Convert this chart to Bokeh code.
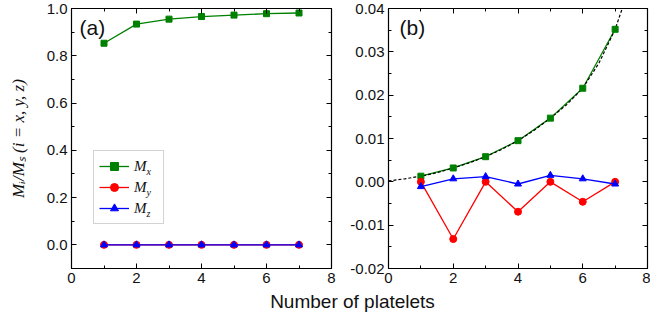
from bokeh.plotting import figure
from bokeh.models import (Range1d, LinearAxis, SingleIntervalTicker, NumeralTickFormatter,
                          Legend, LegendItem, Label)
from bokeh.layouts import column, row
from bokeh.embed import file_html
from bokeh.resources import INLINE

# ---------------- data ----------------
platelets = [1, 2, 3, 4, 5, 6, 7]
# panel (a)
mx_a = [0.853, 0.934, 0.955, 0.966, 0.972, 0.978, 0.981]
my_a = [0.0, 0.0, 0.0, 0.0, 0.0, 0.0, 0.0]
mz_a = [0.0, 0.0, 0.0, 0.0, 0.0, 0.0, 0.0]
# panel (b)
mx_b = [0.0013, 0.0032, 0.0058, 0.0095, 0.0147, 0.0216, 0.0352]
my_b = [0.0, -0.0132, 0.0, -0.0069, 0.0, -0.0046, 0.0]
mz_b = [-0.0011, 0.0007, 0.0012, -0.0005, 0.0015, 0.0007, -0.0005]
# dashed fit curve in panel (b)
fit_x = [0, 0.5, 1, 1.5, 2, 2.5, 3, 3.5, 4, 4.5, 5, 5.5, 6, 6.5, 7, 7.22]
fit_y = [0.0002, 0.0007, 0.0013, 0.0021, 0.0032, 0.0044, 0.0058, 0.0075, 0.0095,
         0.0119, 0.0147, 0.0178, 0.0216, 0.0274, 0.0352, 0.0400]

x_ticks_interval = 2
x_label = "Number of platelets"
y_label = "M\u1d62/M\u209b (i = x, y, z)"
legend_subs = ["x", "y", "z"]

GREEN = "#008000"
RED = "#ff0000"
BLUE = "#0000ff"
TICK_FONT = "Liberation Sans"
TEXT_COLOR = "#111111"


def style(p, yint, yfmt):
    p.grid.visible = False
    p.outline_line_color = "black"
    p.outline_line_width = 1.2
    p.background_fill_color = "white"
    p.border_fill_color = "white"
    p.xaxis.ticker = SingleIntervalTicker(interval=x_ticks_interval, num_minor_ticks=2)
    p.yaxis.ticker = SingleIntervalTicker(interval=yint, num_minor_ticks=2)
    p.xaxis.formatter = NumeralTickFormatter(format="0")
    p.yaxis.formatter = NumeralTickFormatter(format=yfmt)
    for ax in p.xaxis + p.yaxis:
        ax.major_tick_in = 5
        ax.major_tick_out = 0
        ax.minor_tick_in = 3
        ax.minor_tick_out = 0
        ax.major_tick_line_color = "black"
        ax.minor_tick_line_color = "black"
        ax.axis_line_color = "black"
        ax.major_label_text_font = TICK_FONT
        ax.major_label_text_font_size = "15px"
        ax.major_label_text_color = TEXT_COLOR
        ax.major_label_standoff = 4
    # mirrored axes (ticks only, labels not drawn)
    top = LinearAxis(ticker=SingleIntervalTicker(interval=x_ticks_interval, num_minor_ticks=2))
    right = LinearAxis(ticker=SingleIntervalTicker(interval=yint, num_minor_ticks=2))
    for ax in (top, right):
        ax.major_tick_in = 5
        ax.major_tick_out = 0
        ax.minor_tick_in = 3
        ax.minor_tick_out = 0
        ax.major_label_text_font_size = "1px"
        ax.major_label_text_color = None
        ax.major_label_standoff = 0
        ax.axis_line_color = None
    p.add_layout(top, "above")
    p.add_layout(right, "right")


FIG_H = 290
BORDER_TOP = 8
BORDER_BOTTOM = 22

# ---------------- panel (a) ----------------
A_LEFT, A_RIGHT, A_W = 71, 9, 340
pa = figure(width=A_W, height=FIG_H, x_range=Range1d(0, 8), y_range=Range1d(-0.1, 1.0),
            toolbar_location=None, output_backend="svg",
            min_border_left=A_LEFT, min_border_right=A_RIGHT,
            min_border_top=BORDER_TOP, min_border_bottom=BORDER_BOTTOM)
style(pa, 0.2, "0.0")
pa.yaxis[0].axis_label = y_label
pa.yaxis[0].axis_label_text_font = "Liberation Serif"
pa.yaxis[0].axis_label_text_font_style = "italic"
pa.yaxis[0].axis_label_text_font_size = "17px"
pa.yaxis[0].axis_label_text_color = TEXT_COLOR
pa.yaxis[0].axis_label_standoff = 16

la1 = pa.line(platelets, mx_a, line_color=GREEN, line_width=1.3)
ma1 = pa.scatter(platelets, mx_a, marker="square", size=6, fill_color=GREEN, line_color=GREEN)
la2 = pa.line(platelets, my_a, line_color=RED, line_width=1.3)
ma2 = pa.scatter(platelets, my_a, marker="circle", size=7, fill_color=RED, line_color=RED)
la3 = pa.line(platelets, mz_a, line_color=BLUE, line_width=1.3)
ma3 = pa.scatter(platelets, mz_a, marker="triangle", size=7, fill_color=BLUE, line_color=BLUE)

legend = Legend(items=[LegendItem(label="M", renderers=[la1, ma1]),
                       LegendItem(label="M", renderers=[la2, ma2]),
                       LegendItem(label="M", renderers=[la3, ma3])],
                location=(22, 44), padding=5, spacing=1, glyph_width=30, glyph_height=20,
                label_standoff=5, label_width=24, label_height=20,
                label_text_font="Liberation Serif", label_text_font_style="italic",
                label_text_font_size="15px", label_text_color=TEXT_COLOR,
                border_line_color="#a8a8a8", border_line_width=1,
                background_fill_alpha=0.0, margin=0)
pa.add_layout(legend, "center")

fa_w = A_W - A_LEFT - A_RIGHT
fa_h = FIG_H - BORDER_TOP - BORDER_BOTTOM


def a_xy(dx, dy_from_top):
    return dx * 8 / fa_w, 1.0 - dy_from_top * 1.1 / fa_h


# legend geometry (px, relative to frame top-left)
leg_top = fa_h - 44 - 72
for i, s in enumerate(legend_subs):
    x, y = a_xy(75, leg_top + 5 + 10 + 21 * i + 4)
    pa.add_layout(Label(x=x, y=y, text=s, text_font="Liberation Serif", text_font_style="italic",
                        text_font_size="10px", text_color=TEXT_COLOR, text_baseline="middle"))

x, y = a_xy(8, 19)
pa.add_layout(Label(x=x, y=y, text="(a)", text_font=TICK_FONT, text_font_size="21px",
                    text_color=TEXT_COLOR, text_baseline="middle"))

# ---------------- panel (b) ----------------
B_LEFT, B_RIGHT, B_W = 48, 3, 310
pb = figure(width=B_W, height=FIG_H, x_range=Range1d(0, 8), y_range=Range1d(-0.02, 0.04),
            toolbar_location=None, output_backend="svg",
            min_border_left=B_LEFT, min_border_right=B_RIGHT,
            min_border_top=BORDER_TOP, min_border_bottom=BORDER_BOTTOM)
style(pb, 0.01, "0.00")
pb.line(platelets, mx_b, line_color=GREEN, line_width=1.3)
pb.line(fit_x, fit_y, line_color="black", line_width=1.2, line_dash="3 2")
pb.scatter(platelets, mx_b, marker="square", size=6, fill_color=GREEN, line_color=GREEN)
pb.line(platelets, my_b, line_color=RED, line_width=1.3)
pb.scatter(platelets, my_b, marker="circle", size=7, fill_color=RED, line_color=RED)
pb.line(platelets, mz_b, line_color=BLUE, line_width=1.3)
pb.scatter(platelets, mz_b, marker="triangle", size=7, fill_color=BLUE, line_color=BLUE)

fb_w = B_W - B_LEFT - B_RIGHT
fb_h = FIG_H - BORDER_TOP - BORDER_BOTTOM
pb.add_layout(Label(x=11 * 8 / fb_w, y=0.04 - 19 * 0.06 / fb_h, text="(b)", text_font=TICK_FONT,
                    text_font_size="21px", text_color=TEXT_COLOR, text_baseline="middle"))

# ---------------- shared x label ----------------
LBL_H = 31
pl = figure(width=A_W + B_W, height=LBL_H, x_range=Range1d(0, A_W + B_W), y_range=Range1d(0, LBL_H),
            toolbar_location=None, output_backend="svg",
            min_border_left=0, min_border_right=0, min_border_top=0, min_border_bottom=0)
pl.axis.visible = False
pl.grid.visible = False
pl.outline_line_color = None
pl.add_layout(Label(x=352, y=LBL_H - 11, text=x_label, text_font=TICK_FONT, text_font_size="19px",
                    text_color=TEXT_COLOR, text_align="center", text_baseline="middle"))

layout = column(row(pa, pb), pl)
open("out.html", "w").write(file_html(layout, INLINE))
